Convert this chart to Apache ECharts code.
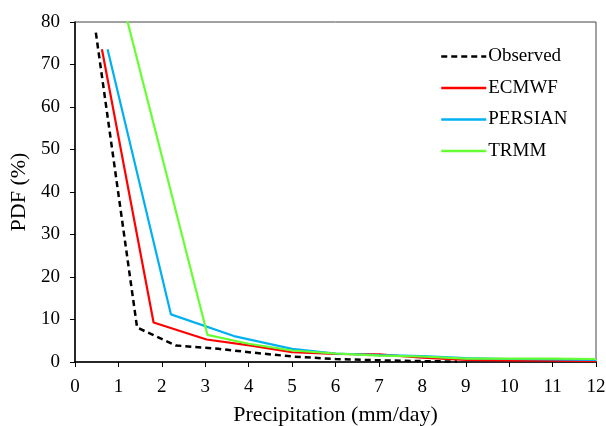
<!DOCTYPE html>
<html><head><meta charset="utf-8">
<script src="https://cdn.jsdelivr.net/npm/echarts@6/dist/echarts.min.js"></script>
<style>html,body{margin:0;padding:0;background:#fff}#c{width:606px;height:426px}</style>
</head><body><div id="c"></div>
<script>
var xTicks = [0,1,2,3,4,5,6,7,8,9,10,11,12];
var yTicks = [0,10,20,30,40,50,60,70,80];
var seriesNames = ['Observed','ECMWF','PERSIAN','TRMM'];
var observed = [[0.48,77.5],[1.43,8.1],[2.32,3.9],[3.3,3.1],[4.1,2.2],[5.0,1.3],[6.0,0.7],[7.0,0.4],[8.0,0.2],[8.8,0.1]];
var ecmwf = [[0.62,73.6],[1.81,9.3],[3.03,5.3],[4.1,3.8],[5.0,2.3],[6.0,1.9],[7.0,1.8],[8.0,1.0],[9.0,0.5],[10,0.4],[11,0.3],[12,0.2]];
var persian = [[0.75,73.6],[2.21,11.2],[3.66,6.1],[5.0,3.1],[6.0,2.0],[7.0,1.6],[8.0,1.4],[9.0,0.9],[10,0.7],[11,0.6],[12,0.5]];
var trmm = [[1.0,88.5],[3.05,6.4],[4.0,4.3],[5.0,2.7],[6.0,2.0],[7.0,1.5],[8.0,1.3],[9.0,0.8],[10,0.8],[11,0.8],[12,0.7]];

var font = '"Liberation Serif","Times New Roman",serif';
var chart = echarts.init(document.getElementById('c'));
function mk(name, data, color, type, width){
  return {name:name, type:'line', data:data, symbol:'none', clip:true,
    lineStyle:{color:color, width:width, type:type}, itemStyle:{color:color}};
}
chart.setOption({
  animation:false,
  grid:{left:75, right:10, top:22, bottom:64, containLabel:false, outerBoundsMode:'none',
    show:true, borderColor:'#444', borderWidth:1, backgroundColor:'transparent'},
  legend:{orient:'vertical', left:435, top:42, itemGap:12.5, itemWidth:45, itemHeight:18,
    itemStyle:{opacity:0}, lineStyle:{width:2.5},
    textStyle:{fontFamily:font, fontSize:19, color:'#000', padding:[0,0,0,-3]},
    data:seriesNames},
  xAxis:{type:'value', min:xTicks[0], max:xTicks[xTicks.length-1], interval:1,
    name:'Precipitation (mm/day)', nameLocation:'middle', nameGap:42,
    nameTextStyle:{fontFamily:font, fontSize:22, color:'#000'},
    axisLine:{lineStyle:{color:'#000', width:1.5}},
    axisTick:{show:true, inside:false, length:5, lineStyle:{color:'#000'}},
    axisLabel:{fontFamily:font, fontSize:19, color:'#000', margin:16},
    splitLine:{show:false}},
  yAxis:{type:'value', min:yTicks[0], max:yTicks[yTicks.length-1], interval:10,
    name:'PDF (%)', nameLocation:'middle', nameGap:40,
    nameTextStyle:{fontFamily:font, fontSize:22, color:'#000'},
    axisLine:{show:true, lineStyle:{color:'#000', width:1.5}},
    axisTick:{show:true, inside:false, length:5, lineStyle:{color:'#000'}},
    axisLabel:{fontFamily:font, fontSize:19, color:'#000', margin:15},
    splitLine:{show:false}},
  series:[
    mk(seriesNames[0], observed, '#000000', [6,4], 2.5),
    mk(seriesNames[1], ecmwf, '#ff0000', 'solid', 2.2),
    mk(seriesNames[2], persian, '#00b0f0', 'solid', 2.2),
    mk(seriesNames[3], trmm, '#66ff33', 'solid', 2.2)
  ]
});
</script></body></html>
